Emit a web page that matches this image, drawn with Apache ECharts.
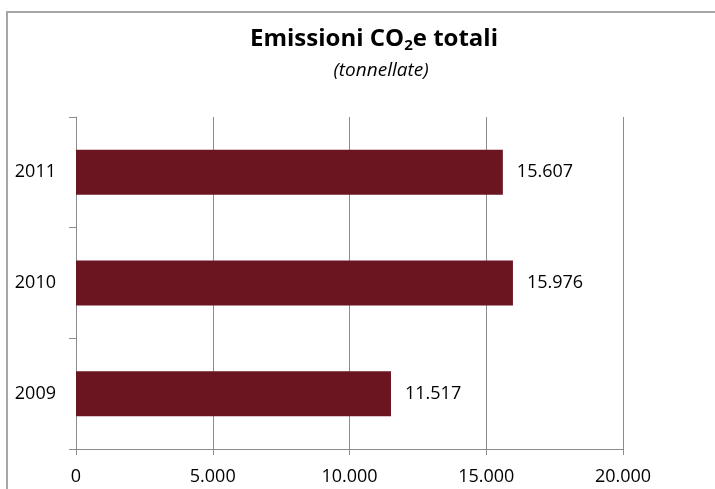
<!DOCTYPE html>
<html>
<head>
<meta charset="utf-8">
<script src="https://cdn.jsdelivr.net/npm/echarts@6/dist/echarts.min.js"></script>
<style>
  html, body { margin: 0; padding: 0; background: #fff; }
  #chart { width: 715px; height: 489px; }
</style>
</head>
<body>
<div id="chart"></div>
<script>
// Emissioni totali per anno (tonnellate di CO2 equivalente)
const years = ['2009', '2010', '2011'];
const emissions = [11517, 15976, 15607];
const xTicks = { min: 0, max: 20000, interval: 5000 };

const FONT = '"Open Sans", sans-serif';
const AXIS_GRAY = '#8c8c8c';

// Italian-style thousands separator: 15607 -> "15.607"
function fmt(v) {
  return String(Math.round(v)).replace(/\B(?=(\d{3})+(?!\d))/g, '.');
}

const chart = echarts.init(document.getElementById('chart'), null, { renderer: 'canvas' });

chart.setOption({
  animation: false,
  backgroundColor: '#ffffff',
  textStyle: { fontFamily: FONT },
  graphic: [
    {
      type: 'rect',
      shape: { x: 7, y: 12, width: 800, height: 600 },
      style: { fill: 'none', stroke: '#a6a6a6', lineWidth: 2 },
      silent: true
    }
  ],
  title: [
    {
      text: '{t|Emissioni CO}{s|2}{t|e totali}',
      left: 369,
      top: 20,
      textAlign: 'center',
      textStyle: {
        rich: {
          t: { fontFamily: FONT, fontWeight: 'bold', fontSize: 24, color: '#000' },
          s: { fontFamily: FONT, fontWeight: 'bold', fontSize: 15, color: '#000', padding: [13, 0, 0, 0] }
        }
      }
    },
    {
      text: '(tonnellate)',
      left: 376,
      top: 56,
      textAlign: 'center',
      textStyle: { fontFamily: FONT, fontStyle: 'italic', fontWeight: 'normal', fontSize: 19, color: '#000' }
    }
  ],
  grid: { left: 76, right: 92, top: 117, bottom: 40, containLabel: false },
  xAxis: {
    type: 'value',
    min: xTicks.min,
    max: xTicks.max,
    interval: xTicks.interval,
    axisLine: { show: true, lineStyle: { color: AXIS_GRAY, width: 1 } },
    axisTick: { show: true, length: 6, lineStyle: { color: AXIS_GRAY } },
    splitLine: { show: true, lineStyle: { color: AXIS_GRAY, width: 1 } },
    axisLabel: {
      margin: 19,
      fontFamily: FONT,
      fontSize: 18,
      color: '#000',
      formatter: fmt
    }
  },
  yAxis: {
    type: 'category',
    data: years,
    axisLine: { show: true, lineStyle: { color: AXIS_GRAY, width: 1 } },
    axisTick: { show: true, length: 7, alignWithLabel: false, lineStyle: { color: AXIS_GRAY } },
    splitLine: { show: false },
    axisLabel: { margin: 20, fontFamily: FONT, fontSize: 18, color: '#000' }
  },
  series: [
    {
      type: 'bar',
      data: emissions,
      barWidth: 45,
      itemStyle: { color: '#6b1520' },
      label: {
        show: true,
        position: 'right',
        distance: 14,
        fontFamily: FONT,
        fontSize: 18,
        color: '#000',
        formatter: p => fmt(p.value)
      }
    }
  ]
});
</script>
</body>
</html>
